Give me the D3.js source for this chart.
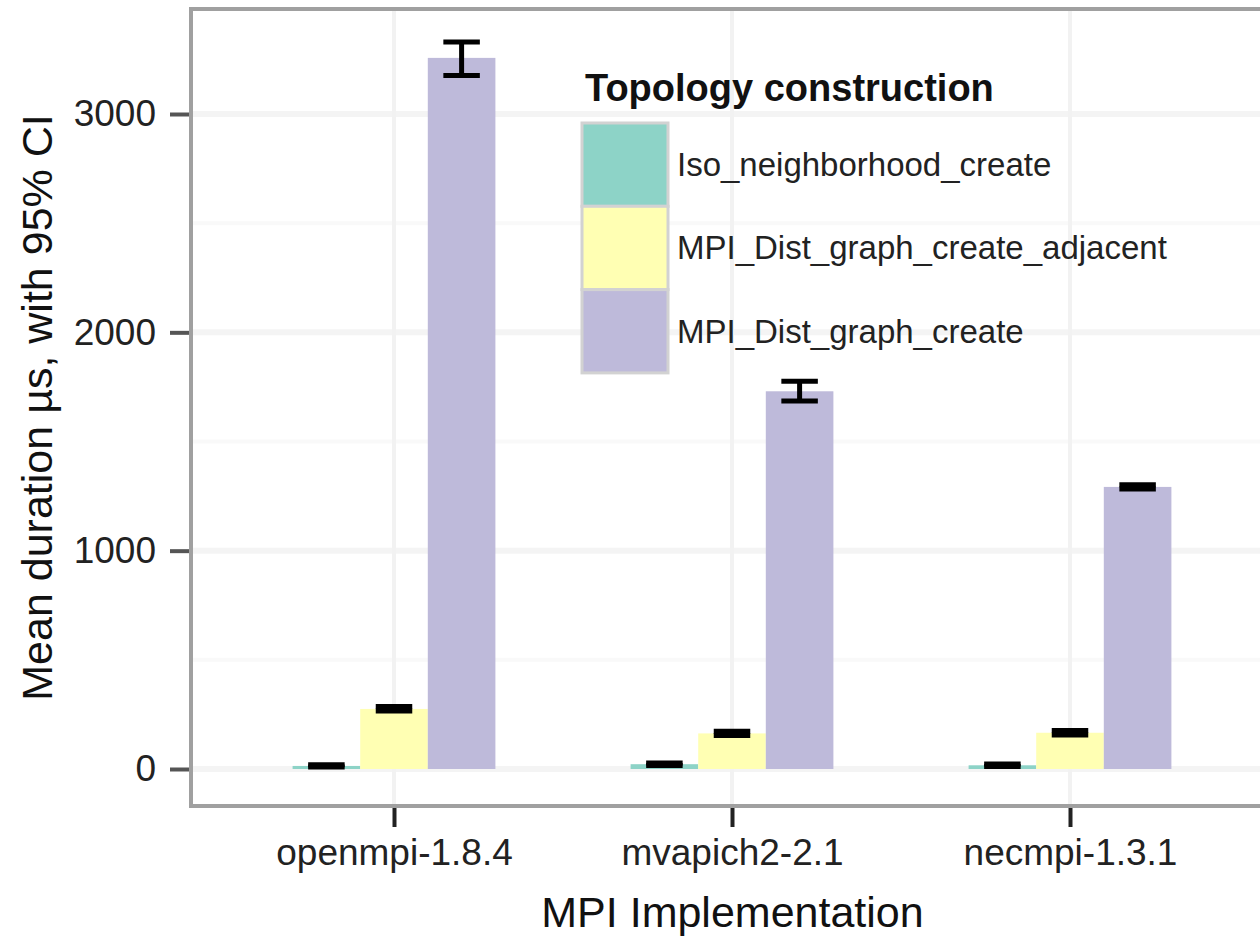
<!DOCTYPE html>
<html>
<head>
<meta charset="utf-8">
<script src="https://cdn.jsdelivr.net/npm/d3@7"></script>
<style>
  body { margin: 0; background: #fff; }
  svg { display: block; font-family: "Liberation Sans", Arial, sans-serif; }
</style>
</head>
<body>
<svg id="chart" width="1260" height="936"></svg>
<script>
// MPI implementations on the x axis
var implementations = ["openmpi-1.8.4", "mvapich2-2.1", "necmpi-1.3.1"];
// topology construction methods (fill groups)
var methods = ["Iso_neighborhood_create", "MPI_Dist_graph_create_adjacent", "MPI_Dist_graph_create"];
var methodColors = ["#8dd3c7", "#ffffb3", "#bebada"];

// mean duration per implementation, one array per method
var isoMean  = [14, 22, 17];
var adjMean  = [275, 163, 166];
var distMean = [3257, 1730, 1292];
// 95% CI bounds
var isoLo  = [9, 16, 11],     isoHi  = [19, 28, 23];
var adjLo  = [266, 153, 156], adjHi  = [286, 173, 176];
var distLo = [3176, 1685, 1283], distHi = [3330, 1776, 1302];

var yTicks = [0, 1000, 2000, 3000];
var yMinor = [500, 1500, 2500];

var xTitle = "MPI Implementation";
var yTitle = "Mean duration \u00b5s, with 95% CI";
var legendTitle = "Topology construction";

// build rows
var means = [isoMean, adjMean, distMean];
var los = [isoLo, adjLo, distLo];
var his = [isoHi, adjHi, distHi];
var rows = [];
implementations.forEach(function(impl, i) {
  methods.forEach(function(m, j) {
    rows.push({impl: impl, method: m, mean: means[j][i], lo: los[j][i], hi: his[j][i]});
  });
});

var svg = d3.select("#chart");

// panel edges (the right edge runs past the picture)
var panel = {left: 191, right: 1274, top: 9, bottom: 806};

var x = d3.scalePoint().domain(implementations).range([394, 1070]);
var step = x.step();
var dodge = d3.scaleBand().domain(methods).range([-0.3 * step, 0.3 * step]);
var y = d3.scaleLinear().domain([0, 3000]).range([769, 114]);
var color = d3.scaleOrdinal().domain(methods).range(methodColors);

// gridlines
var grid = svg.append("g");
grid.selectAll("line.minor").data(yMinor).enter().append("line")
  .attr("x1", panel.left).attr("x2", panel.right)
  .attr("y1", function(d) { return y(d); }).attr("y2", function(d) { return y(d); })
  .attr("stroke", "#f9f9f9").attr("stroke-width", 4);
grid.selectAll("line.major").data(yTicks).enter().append("line")
  .attr("x1", panel.left).attr("x2", panel.right)
  .attr("y1", function(d) { return y(d); }).attr("y2", function(d) { return y(d); })
  .attr("stroke", "#f4f4f4").attr("stroke-width", 6);
grid.selectAll("line.vert").data(implementations).enter().append("line")
  .attr("x1", function(d) { return x(d); }).attr("x2", function(d) { return x(d); })
  .attr("y1", panel.top).attr("y2", panel.bottom)
  .attr("stroke", "#f2f2f2").attr("stroke-width", 4);

// bars
svg.append("g").selectAll("rect").data(rows).enter().append("rect")
  .attr("x", function(d) { return x(d.impl) + dodge(d.method); })
  .attr("width", dodge.bandwidth())
  .attr("y", function(d) { return y(d.mean); })
  .attr("height", function(d) { return y(0) - y(d.mean); })
  .attr("fill", function(d) { return color(d.method); });

// error bars
var capHalf = dodge.bandwidth() * 0.27;
var eb = svg.append("g").attr("stroke", "#000").attr("stroke-width", 5);
rows.forEach(function(d) {
  var cx = x(d.impl) + dodge(d.method) + dodge.bandwidth() / 2;
  eb.append("line").attr("x1", cx).attr("x2", cx).attr("y1", y(d.hi)).attr("y2", y(d.lo));
  eb.append("line").attr("x1", cx - capHalf).attr("x2", cx + capHalf).attr("y1", y(d.hi)).attr("y2", y(d.hi));
  eb.append("line").attr("x1", cx - capHalf).attr("x2", cx + capHalf).attr("y1", y(d.lo)).attr("y2", y(d.lo));
});

// panel border
svg.append("rect")
  .attr("x", panel.left).attr("y", panel.top)
  .attr("width", panel.right - panel.left).attr("height", panel.bottom - panel.top)
  .attr("fill", "none").attr("stroke", "#a0a0a0").attr("stroke-width", 4);

// y axis
var yAxis = svg.append("g")
  .attr("transform", "translate(" + (panel.left - 2) + ",0)")
  .call(d3.axisLeft(y).tickValues(yTicks).tickSize(19).tickPadding(14).tickFormat(d3.format("d")));
yAxis.select(".domain").remove();
yAxis.selectAll(".tick line").attr("stroke", "#555").attr("stroke-width", 4);
yAxis.selectAll(".tick text").attr("fill", "#222").style("font-size", "37px")
  .style("font-family", "Liberation Sans, Arial, sans-serif");

// x axis
var xAxis = svg.append("g")
  .attr("transform", "translate(0," + (panel.bottom + 2) + ")")
  .call(d3.axisBottom(x).tickSize(19).tickPadding(12));
xAxis.select(".domain").remove();
xAxis.selectAll(".tick line").attr("stroke", "#222").attr("stroke-width", 4);
xAxis.selectAll(".tick text").attr("fill", "#222").style("font-size", "37px")
  .style("font-family", "Liberation Sans, Arial, sans-serif");

// axis titles
svg.append("text")
  .attr("x", (panel.left + panel.right) / 2).attr("y", 927)
  .attr("text-anchor", "middle").style("font-size", "43px").attr("fill", "#111")
  .text(xTitle);
svg.append("text")
  .attr("transform", "translate(52," + ((panel.top + panel.bottom) / 2) + ") rotate(-90)")
  .attr("text-anchor", "middle").style("font-size", "43px").attr("fill", "#111")
  .text(yTitle);

// legend
var legend = svg.append("g").attr("transform", "translate(582,123)");
legend.append("text")
  .attr("x", 3).attr("y", -22)
  .style("font-size", "38px").style("font-weight", "bold").attr("fill", "#111")
  .text(legendTitle);
var keyH = 83.3, keyW = 86;
var item = legend.selectAll("g.item").data(methods).enter().append("g")
  .attr("transform", function(d, i) { return "translate(0," + (i * keyH) + ")"; });
item.append("rect")
  .attr("width", keyW).attr("height", keyH)
  .attr("fill", function(d) { return color(d); })
  .attr("stroke", "#d2d2d2").attr("stroke-width", 3);
item.append("text")
  .attr("x", keyW + 9).attr("y", keyH / 2).attr("dy", "0.35em")
  .style("font-size", "33px").attr("fill", "#222")
  .text(function(d) { return d; });
</script>
</body>
</html>
